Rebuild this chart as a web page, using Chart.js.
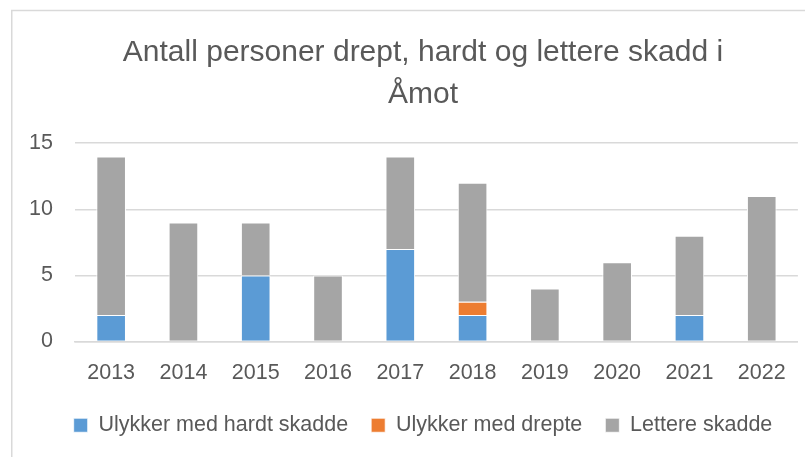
<!DOCTYPE html>
<html><head><meta charset="utf-8">
<script src="https://cdn.jsdelivr.net/npm/chart.js@4/dist/chart.umd.min.js"></script>
<style>html,body{margin:0;padding:0;background:#fff}#wrap{width:805px;height:457px;position:relative}</style>
</head><body><div id="wrap"><canvas id="c" width="805" height="457"></canvas></div>
<script>
const years = ['2013','2014','2015','2016','2017','2018','2019','2020','2021','2022'];
const hardtSkadde = [2,0,5,0,7,2,0,0,2,0];
const drepte = [0,0,0,0,0,1,0,0,0,0];
const lettereSkadde = [12,9,4,5,7,9,4,6,6,11];
const yTicks = [0,5,10,15];
const titleLines = ['Antall personer drept, hardt og lettere skadd i','Åmot'];
const seriesNames = ['Ulykker med hardt skadde','Ulykker med drepte','Lettere skadde'];

const FONT = 'Liberation Sans';
const TXT = '#595959';
const frame = {id:'frame',
  beforeDraw(ch){const c=ch.ctx;c.save();c.fillStyle='#fff';c.fillRect(0,0,ch.width,ch.height);c.strokeStyle='#d9d9d9';c.lineWidth=1.5;c.strokeRect(11.75,10.5,820,470);c.restore();},
  afterLayout(ch){ if(ch.legend){ch.legend.left=48;} if(ch.titleBlock){ch.titleBlock.left=48;} }
};
const ds = (label,data,color)=>({label,data,backgroundColor:color,borderColor:'#ffffff',borderWidth:{top:1,left:1,right:1,bottom:0},categoryPercentage:1,barPercentage:0.41});
new Chart(document.getElementById('c'),{
  type:'bar',
  data:{labels:years,datasets:[ds(seriesNames[0],hardtSkadde,'#5b9bd5'),ds(seriesNames[1],drepte,'#ed7d31'),ds(seriesNames[2],lettereSkadde,'#a5a5a5')]},
  options:{responsive:false,animation:false,
    layout:{padding:{left:20,right:7,top:10,bottom:11}},
    plugins:{
      title:{display:true,text:titleLines,color:TXT,font:{family:FONT,size:30,weight:'normal',lineHeight:1.42},padding:{top:21,bottom:27}},
      legend:{position:'bottom',labels:{color:TXT,font:{family:FONT,size:21.5},boxWidth:14,boxHeight:14,padding:23}},
      tooltip:{enabled:false}
    },
    scales:{
      x:{stacked:true,afterFit(ax){ax.height=50;},grid:{display:false,drawTicks:false},border:{display:true,color:'#d9d9d9',width:1.5},ticks:{color:TXT,font:{family:FONT,size:21.5},padding:19,maxRotation:0}},
      y:{stacked:true,min:0,max:15,afterFit(ax){ax.width=55;},afterBuildTicks(ax){ax.ticks=yTicks.map(v=>({value:v}));},grid:{color:'#d9d9d9',lineWidth:1.5,drawTicks:false},border:{display:false},ticks:{color:TXT,font:{family:FONT,size:21.5},padding:22}}
    }
  },
  plugins:[frame]
});
</script></body></html>
